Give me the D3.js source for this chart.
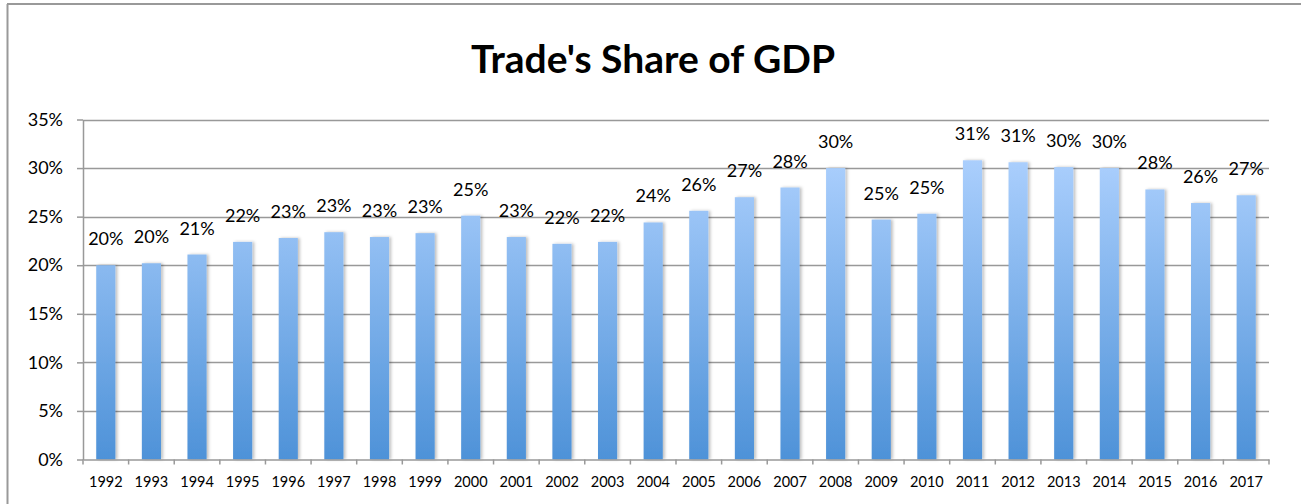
<!DOCTYPE html>
<html>
<head>
<meta charset="utf-8">
<script src="https://cdn.jsdelivr.net/npm/d3@7"></script>
<style>
  body { margin: 0; background: #fff; }
  svg { display: block; font-family: Lato, "Open Sans", sans-serif; }
</style>
</head>
<body>
<svg width="1301" height="504"></svg>
<script>
var years = ['1992', '1993', '1994', '1995', '1996', '1997', '1998', '1999', '2000', '2001', '2002', '2003', '2004',
    '2005', '2006', '2007', '2008', '2009', '2010', '2011', '2012', '2013', '2014', '2015', '2016', '2017'];
var share = [20.0, 20.2, 21.1, 22.4, 22.8, 23.4, 22.9, 23.3, 25.1, 22.9, 22.2, 22.4, 24.4,
    25.6, 27.0, 28.0, 30.0, 24.7, 25.3, 30.8, 30.6, 30.1, 30.0, 27.8, 26.4, 27.2];
var yTicks = [0, 5, 10, 15, 20, 25, 30, 35];

var svg = d3.select('svg');

// outer frame (top + left edges visible)
svg.append('line').attr('x1', 7).attr('y1', 4).attr('x2', 1301).attr('y2', 4)
    .attr('stroke', '#999').attr('stroke-width', 2);
svg.append('line').attr('x1', 7.5).attr('y1', 4).attr('x2', 7.5).attr('y2', 504)
    .attr('stroke', '#999').attr('stroke-width', 2);

svg.append('text').attr('x', 653).attr('y', 73).attr('text-anchor', 'middle')
    .attr('font-size', 39).attr('font-weight', 'bold').attr('fill', '#000')
    .text("Trade's Share of GDP");

var plotLeft = 83, plotRight = 1269, plotTop = 119.5, plotBottom = 459.5;

var x = d3.scaleBand().domain(years).range([plotLeft, plotRight]).paddingInner(0.58).paddingOuter(0.29);
var y = d3.scaleLinear().domain([0, 35]).range([plotBottom, plotTop]);

var defs = svg.append('defs');
var grad = defs.append('linearGradient').attr('id', 'barfill')
    .attr('gradientUnits', 'userSpaceOnUse')
    .attr('x1', 0).attr('x2', 0).attr('y1', y(31)).attr('y2', plotBottom);
grad.append('stop').attr('offset', '0%').attr('stop-color', '#abcffd');
grad.append('stop').attr('offset', '100%').attr('stop-color', '#4e92d8');

var shadow = defs.append('filter').attr('id', 'shadow').attr('x', '-20%').attr('width', '160%');
shadow.append('feDropShadow').attr('dx', 2).attr('dy', 0).attr('stdDeviation', 1.5)
    .attr('flood-color', '#000').attr('flood-opacity', 0.25);

// gridlines
svg.append('g').selectAll('line').data(yTicks.slice(1)).join('line')
    .attr('x1', plotLeft).attr('x2', plotRight)
    .attr('y1', function (d) { return Math.round(y(d)) + 0.5; })
    .attr('y2', function (d) { return Math.round(y(d)) + 0.5; })
    .attr('stroke', '#999').attr('stroke-width', 1.5);

// y axis
var yAxis = d3.axisLeft(y).tickValues(yTicks).tickSize(6).tickSizeOuter(0).tickPadding(14)
    .tickFormat(function (d) { return d + '%'; });
var gy = svg.append('g').attr('transform', 'translate(' + plotLeft + ',0)').call(yAxis);
gy.select('.domain').attr('stroke', '#999').attr('stroke-width', 1.5);
gy.selectAll('.tick line').attr('stroke', '#999').attr('stroke-width', 1.5);
gy.selectAll('.tick text').attr('font-size', 18).attr('fill', '#000')
    .attr('font-family', 'Lato, "Open Sans", sans-serif');

// bars
svg.append('g').selectAll('rect').data(share).join('rect')
    .attr('x', function (d, i) { return x(years[i]); })
    .attr('y', function (d) { return y(d); })
    .attr('width', x.bandwidth())
    .attr('height', function (d) { return plotBottom - y(d); })
    .attr('fill', 'url(#barfill)')
    .attr('filter', 'url(#shadow)');

// x axis
var xAxis = d3.axisBottom(x).tickSize(0).tickPadding(17);
var gx = svg.append('g').attr('transform', 'translate(0,' + plotBottom + ')').call(xAxis);
gx.select('.domain').attr('stroke', '#999').attr('stroke-width', 1.5);
gx.selectAll('.tick text').attr('font-size', 14.5).attr('fill', '#000')
    .attr('font-family', 'Lato, "Open Sans", sans-serif');
var step = x.step();
gx.append('g').selectAll('line').data(d3.range(years.length + 1)).join('line')
    .attr('x1', function (i) { return plotLeft + i * step; })
    .attr('x2', function (i) { return plotLeft + i * step; })
    .attr('y1', 0).attr('y2', 5)
    .attr('stroke', '#999').attr('stroke-width', 1.5);

// value labels
svg.append('g').selectAll('text').data(share).join('text')
    .attr('x', function (d, i) { return x(years[i]) + x.bandwidth() / 2; })
    .attr('y', function (d) { return y(d) - 20; })
    .attr('text-anchor', 'middle')
    .attr('font-size', 18).attr('fill', '#000')
    .text(function (d) { return Math.round(d) + '%'; });
</script>
</body>
</html>
